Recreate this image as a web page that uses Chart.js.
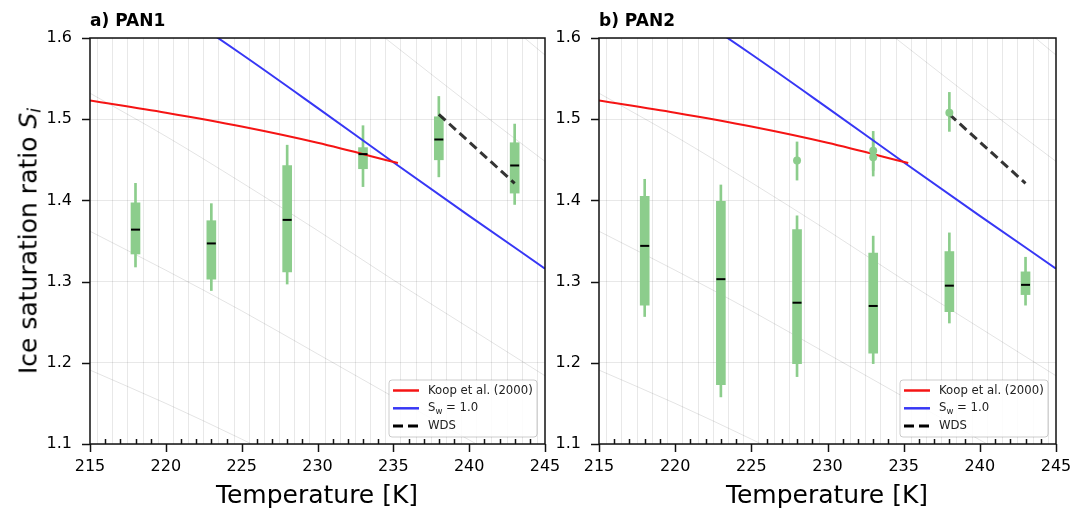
<!DOCTYPE html>
<html>
<head>
<meta charset="utf-8">
<script src="https://cdn.jsdelivr.net/npm/chart.js@4.4.1/dist/chart.umd.min.js"></script>
<style>
  html, body { margin: 0; padding: 0; background: #fff; }
  #page { position: relative; width: 1070px; height: 510px; overflow: hidden; font-family: "DejaVu Sans", sans-serif; color: #000; }
  canvas { position: absolute; top: 0; }
  .panel-title { position: absolute; top: 12px; font-size: 17px; font-weight: bold; line-height: 17px; white-space: nowrap; }
  .x-title { position: absolute; top: 482px; width: 400px; font-size: 25px; line-height: 25px; text-align: center; white-space: nowrap; }
  .y-title { position: absolute; left: 28px; top: 241px; font-size: 25px; line-height: 25px; white-space: nowrap; transform: translate(-50%, -50%) rotate(-90deg); }
  .y-title sub { font-size: 0.7em; line-height: 0; vertical-align: -0.25em; }
</style>
</head>
<body>
<div id="page">
  <canvas id="pan1" width="580" height="510" style="left:0"></canvas>
  <canvas id="pan2" width="560" height="510" style="left:548px"></canvas>
  <div class="panel-title" style="left:90px">a) PAN1</div>
  <div class="panel-title" style="left:599px">b) PAN2</div>
  <div class="x-title" style="left:117px">Temperature [K]</div>
  <div class="x-title" style="left:627px">Temperature [K]</div>
  <div class="y-title">Ice saturation ratio <i>S</i><sub><i>i</i></sub></div>
</div>
<script>
// box positions (temperature, K)
const boxT = [218, 223, 228, 233, 238, 243];

// PAN1 boxes
const pan1Min = [1.318, 1.289, 1.297, 1.417, 1.429, 1.395];
const pan1Q1  = [1.334, 1.303, 1.312, 1.439, 1.450, 1.409];
const pan1Med = [1.364, 1.347, 1.376, 1.457, 1.475, 1.443];
const pan1Q3  = [1.397, 1.375, 1.443, 1.465, 1.503, 1.471];
const pan1Max = [1.421, 1.396, 1.468, 1.492, 1.528, 1.494];

// PAN2 boxes
const pan2Min = [1.257, 1.158, 1.183, 1.199, 1.249, 1.271];
const pan2Q1  = [1.271, 1.173, 1.199, 1.212, 1.263, 1.284];
const pan2Med = [1.344, 1.303, 1.274, 1.270, 1.295, 1.296];
const pan2Q3  = [1.405, 1.399, 1.364, 1.335, 1.337, 1.312];
const pan2Max = [1.426, 1.419, 1.381, 1.356, 1.360, 1.330];

// PAN2 single points with error bars
const pan2PtT   = [228, 233, 233, 238];
const pan2PtVal = [1.449, 1.461, 1.453, 1.508];
const pan2PtLo  = [1.425, 1.437, 1.430, 1.485];
const pan2PtHi  = [1.472, 1.485, 1.476, 1.533];

// reference curves
const curveT = [215, 220, 225, 230, 235, 240, 245];
const waterSat = [1.702, 1.643, 1.580, 1.514, 1.447, 1.381, 1.316];
const rh120 = [2.042, 1.972, 1.896, 1.817, 1.736, 1.657, 1.579];
const rh110 = [1.872, 1.807, 1.738, 1.665, 1.592, 1.519, 1.448];
const rh090 = [1.532, 1.479, 1.422, 1.363, 1.302, 1.243, 1.184];
const rh080 = [1.362, 1.314, 1.264, 1.211, 1.158, 1.105, 1.053];
const rh070 = [1.191, 1.150, 1.106, 1.060, 1.013, 0.967, 0.921];

const koopT  = [215, 220, 225, 230, 235.3];
const koopSi = [1.523, 1.508, 1.491, 1.471, 1.446];

const wdsT  = [238, 243];
const wdsSi = [1.506, 1.421];

const xTicks = [215, 220, 225, 230, 235, 240, 245];
const yTicks = [1.1, 1.2, 1.3, 1.4, 1.5, 1.6];

const GREEN = 'rgb(140, 205, 140)';
const RED = 'rgb(245, 20, 20)';
const BLUE = 'rgb(55, 55, 245)';

Chart.defaults.font.family = '"DejaVu Sans", sans-serif';
Chart.defaults.font.size = 16;
Chart.defaults.color = '#000';

function pts(xs, ys) {
  return xs.map((x, i) => ({ x: x, y: ys[i] }));
}

function greyLine(ys) {
  return {
    type: 'line', data: pts(curveT, ys), borderColor: 'rgba(0,0,0,0.11)', borderWidth: 1,
    pointRadius: 0, cubicInterpolationMode: 'monotone', order: 9
  };
}

function buildDatasets(mins, q1s, meds, q3s, maxs, withPoints) {
  const ds = [
    greyLine(rh120), greyLine(rh110), greyLine(rh090), greyLine(rh080), greyLine(rh070),
    {
      type: 'bar', data: boxT.map((t, i) => ({ x: t, y: [mins[i], maxs[i]] })),
      backgroundColor: GREEN, barThickness: 2, grouped: false, borderWidth: 0, order: 7
    },
    {
      type: 'bar', data: boxT.map((t, i) => ({ x: t, y: [q1s[i], q3s[i]] })),
      backgroundColor: GREEN, barThickness: 9, grouped: false, borderWidth: 0, order: 6
    },
    {
      type: 'line', label: 'Koop et al. (2000)', inLegend: true,
      data: pts(koopT, koopSi), borderColor: RED, borderWidth: 2, pointRadius: 0,
      cubicInterpolationMode: 'monotone', order: 3
    },
    {
      type: 'line', label: 'S_w = 1.0', inLegend: true,
      data: pts(curveT, waterSat), borderColor: BLUE, borderWidth: 2, pointRadius: 0,
      cubicInterpolationMode: 'monotone', order: 4
    },
    {
      type: 'line', label: 'WDS', inLegend: true,
      data: pts(wdsT, wdsSi), borderColor: 'rgba(30,30,30,0.9)', borderWidth: 3,
      borderDash: [9, 5], pointRadius: 0, order: 2
    },
    {
      type: 'line', showLine: false, data: pts(boxT, meds),
      pointStyle: 'line', pointRadius: 4.5, pointBorderWidth: 2, pointBorderColor: '#000', order: 0
    }
  ];
  if (withPoints) {
    ds.push({
      type: 'bar', data: pan2PtT.map((t, i) => ({ x: t, y: [pan2PtLo[i], pan2PtHi[i]] })),
      backgroundColor: GREEN, barThickness: 2, grouped: false, borderWidth: 0, order: 5
    });
    ds.push({
      type: 'line', showLine: false, data: pts(pan2PtT, pan2PtVal),
      pointRadius: 4, pointBackgroundColor: GREEN, pointBorderWidth: 0, order: 1
    });
  }
  return ds;
}

function drawLabel(ctx, text, x, y) {
  const i = text.indexOf('_');
  if (i < 0) { ctx.fillText(text, x, y); return; }
  const base = text.slice(0, i), sub = text[i + 1], rest = text.slice(i + 2);
  ctx.fillText(base, x, y);
  x += ctx.measureText(base).width;
  const font = ctx.font;
  ctx.font = '8.5px "DejaVu Sans", sans-serif';
  ctx.fillText(sub, x, y + 3);
  x += ctx.measureText(sub).width;
  ctx.font = font;
  ctx.fillText(rest, x, y);
}

const framePlugin = {
  id: 'frame',
  afterDraw(chart) {
    const { ctx, chartArea: a, scales } = chart;
    const x = scales.x, y = scales.y;
    ctx.save();
    ctx.strokeStyle = '#111';
    ctx.lineWidth = 1.5;
    x.ticks.forEach(t => {
      const px = Math.round(x.getPixelForValue(t.value)) + 0.5;
      ctx.beginPath();
      if (xTicks.includes(t.value)) {
        ctx.moveTo(px, a.bottom); ctx.lineTo(px, a.bottom + 8);
      } else {
        ctx.moveTo(px, a.bottom); ctx.lineTo(px, a.bottom - 5);
      }
      ctx.stroke();
    });
    yTicks.forEach(v => {
      const py = Math.round(y.getPixelForValue(v)) + 0.5;
      ctx.beginPath();
      ctx.moveTo(a.left, py); ctx.lineTo(a.left - 8, py);
      ctx.stroke();
    });
    ctx.strokeRect(a.left, a.top, a.right - a.left, a.bottom - a.top);

    // legend box, lower right
    const w = 148, h = 57;
    const lx = a.right - 8 - w, ly = a.bottom - 7 - h;
    ctx.beginPath();
    ctx.roundRect(lx, ly, w, h, 3);
    ctx.fillStyle = 'rgba(255,255,255,0.85)';
    ctx.fill();
    ctx.strokeStyle = 'rgba(0,0,0,0.2)';
    ctx.lineWidth = 1;
    ctx.stroke();
    const entries = chart.data.datasets.filter(d => d.inLegend);
    ctx.font = '11.7px "DejaVu Sans", sans-serif';
    ctx.textBaseline = 'middle';
    entries.forEach((d, i) => {
      const ry = ly + 10.5 + i * 17.8;
      ctx.beginPath();
      ctx.strokeStyle = d.label === 'WDS' ? '#000' : d.borderColor;
      ctx.lineWidth = d.label === 'WDS' ? 3 : 2.5;
      ctx.setLineDash(d.borderDash ? [10, 5] : []);
      ctx.moveTo(lx + 4, ry); ctx.lineTo(lx + 30, ry);
      ctx.stroke();
      ctx.setLineDash([]);
      ctx.fillStyle = '#222';
      drawLabel(ctx, d.label, lx + 39, ry);
    });
    ctx.restore();
  }
};

function makeChart(id, datasets, yWidth, padRight) {
  return new Chart(document.getElementById(id), {
    type: 'line',
    data: { datasets: datasets },
    options: {
      responsive: false,
      animation: false,
      devicePixelRatio: 1,
      events: [],
      layout: { padding: { left: 0, right: padRight, top: 38, bottom: 0 } },
      plugins: { legend: { display: false }, tooltip: { enabled: false } },
      scales: {
        x: {
          type: 'linear', min: 215, max: 245, offset: false,
          grid: { color: 'rgba(0,0,0,0.09)', lineWidth: 1, drawTicks: false },
          border: { display: false },
          ticks: {
            stepSize: 1, autoSkip: false, maxRotation: 0, padding: 13,
            callback: v => (xTicks.includes(v) ? String(v) : '')
          },
          afterFit: s => { s.height = 66; }
        },
        y: {
          type: 'linear', min: 1.1, max: 1.6,
          grid: { color: 'rgba(0,0,0,0.09)', lineWidth: 1, drawTicks: false },
          border: { display: false },
          ticks: { stepSize: 0.1, padding: 18, callback: v => v.toFixed(1) },
          afterFit: s => { s.width = yWidth; }
        }
      }
    },
    plugins: [framePlugin]
  });
}

makeChart('pan1', buildDatasets(pan1Min, pan1Q1, pan1Med, pan1Q3, pan1Max, false), 90, 35);
makeChart('pan2', buildDatasets(pan2Min, pan2Q1, pan2Med, pan2Q3, pan2Max, true), 51, 52);
</script>
</body>
</html>
